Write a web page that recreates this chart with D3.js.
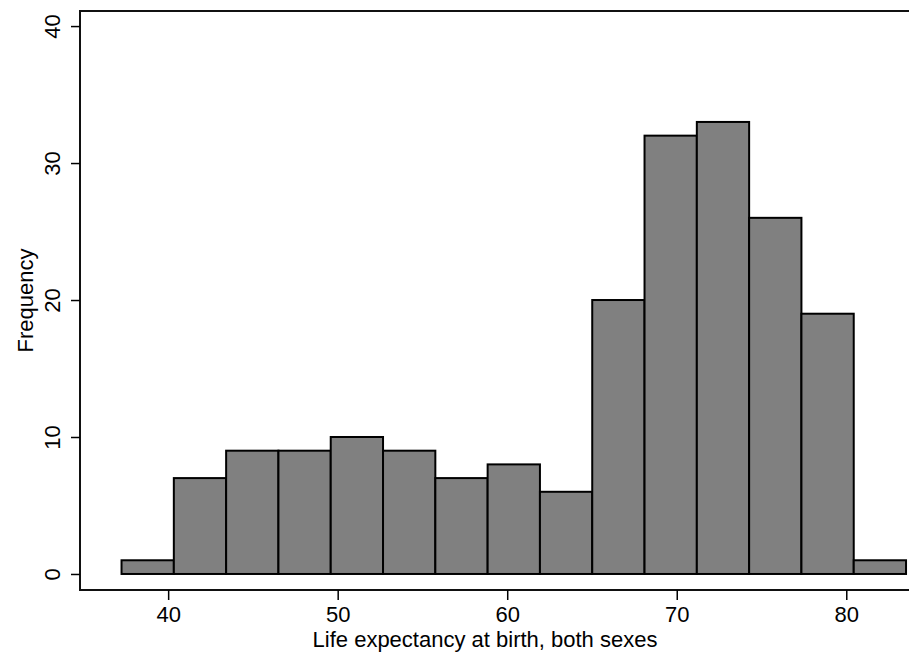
<!DOCTYPE html>
<html>
<head>
<meta charset="utf-8">
<script src="https://cdn.jsdelivr.net/npm/d3@7"></script>
<style>
  html, body { margin: 0; padding: 0; background: #fff; }
  svg { display: block; font-family: "Liberation Sans", Arial, sans-serif; }
</style>
</head>
<body>
<svg id="chart" width="909" height="657"></svg>
<script>
// Histogram of life expectancy at birth (both sexes), frequency per bin
const counts = [1, 7, 9, 9, 10, 9, 7, 8, 6, 20, 32, 33, 26, 19, 1];
const binStart = 37.25;
const binWidth = 3.085;
const xTicks = [40, 50, 60, 70, 80];
const yTicks = [0, 10, 20, 30, 40];
const xTitle = "Life expectancy at birth, both sexes";
const yTitle = "Frequency";

const bins = counts.map((c, i) => ({
  x0: binStart + i * binWidth,
  x1: binStart + (i + 1) * binWidth,
  n: c
}));

const W = 909, H = 657;
const plot = { left: 80, right: 909, top: 11, bottom: 590 };
const fontSize = 22;

const x = d3.scaleLinear().domain([34.8, 83.7]).range([plot.left, plot.right]);
const y = d3.scaleLinear().domain([-1.17, 41.1]).range([plot.bottom, plot.top]);

const svg = d3.select("#chart");

// bars
svg.append("g")
  .selectAll("rect")
  .data(bins)
  .join("rect")
  .attr("x", d => x(d.x0))
  .attr("y", d => y(d.n))
  .attr("width", d => x(d.x1) - x(d.x0))
  .attr("height", d => y(0) - y(d.n))
  .attr("fill", "#808080")
  .attr("stroke", "#000")
  .attr("stroke-width", 2);

// plot frame (top, left, bottom)
svg.append("path")
  .attr("d", `M${plot.right},${plot.top}H${plot.left}V${plot.bottom}H${plot.right}`)
  .attr("fill", "none")
  .attr("stroke", "#111")
  .attr("stroke-width", 2);

// x axis
const xAxis = svg.append("g")
  .attr("transform", `translate(0,${plot.bottom})`)
  .call(d3.axisBottom(x).tickValues(xTicks).tickSize(10).tickPadding(6).tickFormat(d3.format("d")));
xAxis.select(".domain").remove();
xAxis.selectAll(".tick line").attr("stroke", "#000").attr("stroke-width", 1.5);
xAxis.selectAll(".tick text")
  .attr("font-size", fontSize)
  .attr("font-family", "Liberation Sans, Arial, sans-serif")
  .attr("fill", "#000");

// y axis with rotated labels
const yAxis = svg.append("g")
  .attr("transform", `translate(${plot.left},0)`)
  .call(d3.axisLeft(y).tickValues(yTicks).tickSize(9).tickFormat(d3.format("d")));
yAxis.select(".domain").remove();
yAxis.selectAll(".tick line").attr("stroke", "#000").attr("stroke-width", 1.5);
yAxis.selectAll(".tick text")
  .attr("x", null).attr("dy", null)
  .attr("text-anchor", "middle")
  .attr("transform", "translate(-20,0) rotate(-90)")
  .attr("font-size", fontSize)
  .attr("font-family", "Liberation Sans, Arial, sans-serif")
  .attr("fill", "#000");

// axis titles
svg.append("text")
  .attr("x", 485)
  .attr("y", 647)
  .attr("text-anchor", "middle")
  .attr("font-size", fontSize)
  .attr("fill", "#000")
  .text(xTitle);

svg.append("text")
  .attr("transform", `translate(33,${(plot.top + plot.bottom) / 2}) rotate(-90)`)
  .attr("text-anchor", "middle")
  .attr("font-size", fontSize)
  .attr("fill", "#000")
  .text(yTitle);
</script>
</body>
</html>
